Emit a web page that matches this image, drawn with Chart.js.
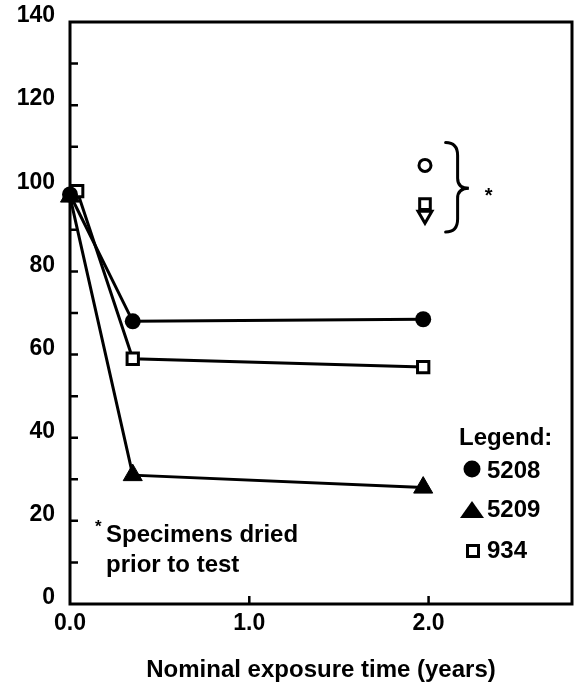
<!DOCTYPE html>
<html>
<head>
<meta charset="utf-8">
<title>Nominal exposure time</title>
<script src="https://cdn.jsdelivr.net/npm/chart.js@4.4.0/dist/chart.umd.min.js"></script>
<style>
  html, body { margin: 0; padding: 0; background: #fff; overflow: hidden; }
  canvas { display: block; }
</style>
</head>
<body>
<canvas id="exposicaoChart" width="574" height="686"></canvas>
<script>
// exposure time (years) and retained property (%) per material
const anos = [0, 0.35, 1.97];
const anos934 = [0.04, 0.35, 1.97];
const valores5208 = [98.5, 68, 68.5];
const valores5209 = [98, 31, 28];
const valores934 = [99.3, 59, 57];

// specimens dried prior to test, at two years
const anoSeco = 1.98;
const seco5208 = [105.5];
const seco934 = [96.2];
const seco5209 = [93.5];

const xTicks = [0, 1, 2];
const yPassoMenor = 10;

const fonte = "'Liberation Sans', Arial, Helvetica, sans-serif";

function pontos(xs, ys) {
    return xs.map((x, i) => ({ x: x, y: ys[i] }));
}

// frame and inward tick marks, drawn under the data
const moldura = {
    id: 'moldura',
    beforeDatasetsDraw(chart) {
        const { ctx, chartArea: a, scales: { x, y } } = chart;
        ctx.save();
        ctx.strokeStyle = '#000';
        ctx.lineWidth = 3;
        ctx.strokeRect(a.left, a.top, a.right - a.left, a.bottom - a.top);
        ctx.lineWidth = 2.5;
        ctx.beginPath();
        for (let v = yPassoMenor; v < y.max; v += yPassoMenor) {
            const py = y.getPixelForValue(v);
            ctx.moveTo(a.left, py);
            ctx.lineTo(a.left + 8, py);
        }
        xTicks.slice(1).forEach(v => {
            const px = x.getPixelForValue(v);
            ctx.moveTo(px, a.bottom);
            ctx.lineTo(px, a.bottom - 8);
        });
        ctx.stroke();
        ctx.restore();
    }
};

// brace for the dried specimens, notes and the legend box
const anotacoes = {
    id: 'anotacoes',
    afterDatasetsDraw(chart) {
        const { ctx, scales: { x, y } } = chart;
        ctx.save();
        ctx.strokeStyle = '#000';
        ctx.fillStyle = '#000';
        ctx.lineWidth = 3;
        ctx.lineCap = 'round';

        const xa = x.getPixelForValue(2.095);
        const xb = x.getPixelForValue(2.162);
        const xc = x.getPixelForValue(2.225);
        const yt = y.getPixelForValue(111);
        const ym = y.getPixelForValue(100);
        const yb = y.getPixelForValue(89.5);
        ctx.beginPath();
        ctx.moveTo(xa, yt);
        ctx.quadraticCurveTo(xb, yt, xb, yt + 13);
        ctx.lineTo(xb, ym - 10);
        ctx.quadraticCurveTo(xb, ym, xc, ym);
        ctx.quadraticCurveTo(xb, ym, xb, ym + 10);
        ctx.lineTo(xb, yb - 13);
        ctx.quadraticCurveTo(xb, yb, xa, yb);
        ctx.stroke();

        ctx.textAlign = 'center';
        ctx.font = 'bold 20px ' + fonte;
        ctx.fillText('*', x.getPixelForValue(2.335), ym + 14);

        ctx.textAlign = 'left';
        ctx.font = 'bold 17px ' + fonte;
        ctx.fillText('*', 95, 532);
        ctx.font = 'bold 24px ' + fonte;
        ctx.fillText('Specimens dried', 106, 542);
        ctx.fillText('prior to test', 106, 572);

        ctx.fillText('Legend:', 459, 445);
        ctx.fillText('5208', 487, 478);
        ctx.fillText('5209', 487, 517);
        ctx.fillText('934', 487, 558);

        ctx.beginPath();
        ctx.arc(472, 469, 8.5, 0, Math.PI * 2);
        ctx.fill();

        ctx.beginPath();
        ctx.moveTo(472, 501);
        ctx.lineTo(484, 518);
        ctx.lineTo(460, 518);
        ctx.closePath();
        ctx.fill();

        ctx.fillStyle = '#fff';
        ctx.fillRect(467.5, 545.5, 11, 11);
        ctx.strokeRect(467.5, 545.5, 11, 11);
        ctx.restore();
    }
};

// keep the plot box where the layout padding puts it
function semFolga(scale) {
    scale.paddingTop = 0;
    scale.paddingBottom = 0;
    scale.paddingLeft = 0;
    scale.paddingRight = 0;
}

const ctx = document.getElementById('exposicaoChart').getContext('2d');
const exposicaoChart = new Chart(ctx, {
    type: 'line',
    data: {
        datasets: [
            {
                label: '5208',
                data: pontos(anos, valores5208),
                borderColor: '#000',
                borderWidth: 3,
                pointStyle: 'circle',
                pointRadius: 8,
                pointBackgroundColor: '#000',
                pointBorderWidth: 0,
                clip: false
            },
            {
                label: '5209',
                data: pontos(anos, valores5209),
                borderColor: '#000',
                borderWidth: 3,
                pointStyle: 'triangle',
                pointRadius: 11,
                pointBackgroundColor: '#000',
                pointBorderWidth: 1,
                pointBorderColor: '#000',
                clip: false
            },
            {
                label: '934',
                data: pontos(anos934, valores934),
                borderColor: '#000',
                borderWidth: 3,
                pointStyle: 'rect',
                pointRadius: 8,
                pointBackgroundColor: '#fff',
                pointBorderColor: '#000',
                pointBorderWidth: 3,
                clip: false
            },
            {
                label: '5208 dried',
                data: pontos([anoSeco], seco5208),
                showLine: false,
                pointStyle: 'circle',
                pointRadius: 6,
                pointBackgroundColor: '#fff',
                pointBorderColor: '#000',
                pointBorderWidth: 3
            },
            {
                label: '5209 dried',
                data: pontos([anoSeco], seco5209),
                showLine: false,
                pointStyle: 'triangle',
                pointRotation: 180,
                pointRadius: 8,
                pointBackgroundColor: '#fff',
                pointBorderColor: '#000',
                pointBorderWidth: 3
            },
            {
                label: '934 dried',
                data: pontos([anoSeco], seco934),
                showLine: false,
                pointStyle: 'rect',
                pointRadius: 7.5,
                pointBackgroundColor: '#fff',
                pointBorderColor: '#000',
                pointBorderWidth: 3
            }
        ]
    },
    options: {
        responsive: false,
        animation: false,
        layout: {
            autoPadding: false,
            padding: { top: 22, right: 2, left: 0, bottom: 0 }
        },
        plugins: {
            legend: { display: false },
            tooltip: { enabled: false }
        },
        scales: {
            x: {
                type: 'linear',
                min: 0,
                max: 2.8,
                afterBuildTicks: scale => { scale.ticks = xTicks.map(v => ({ value: v })); },
                afterFit: scale => { scale.height = 82; semFolga(scale); },
                grid: { display: false, drawTicks: false },
                border: { display: false },
                ticks: {
                    padding: 6,
                    color: '#000',
                    font: { family: fonte, size: 23, weight: 'bold' },
                    callback: v => Number(v).toFixed(1)
                },
                title: {
                    display: true,
                    text: 'Nominal exposure time (years)',
                    color: '#000',
                    font: { family: fonte, size: 24, weight: 'bold' },
                    padding: { top: 0, bottom: 1 }
                }
            },
            y: {
                min: 0,
                max: 140,
                afterFit: scale => { scale.width = 70; semFolga(scale); },
                grid: { display: false, drawTicks: false },
                border: { display: false },
                ticks: {
                    stepSize: 20,
                    padding: 15,
                    labelOffset: -6,
                    color: '#000',
                    font: { family: fonte, size: 23, weight: 'bold' }
                }
            }
        }
    },
    plugins: [moldura, anotacoes]
});
</script>
</body>
</html>
